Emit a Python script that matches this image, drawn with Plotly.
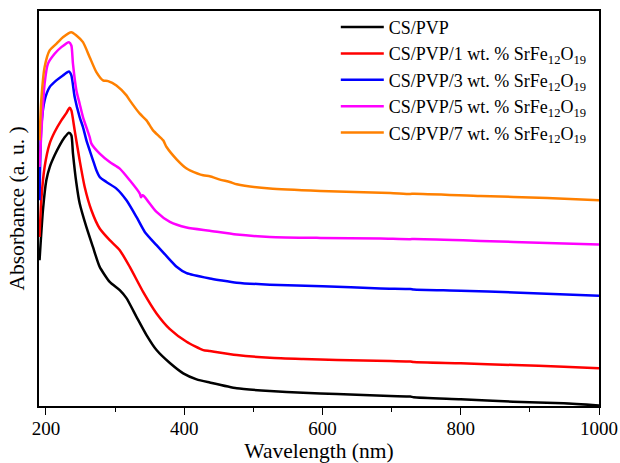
import plotly.graph_objects as go

# ---- data (wavelength in nm, absorbance in arbitrary units) ----
black_wl = [190.8, 195.7, 200.6, 205.4, 212.6, 219.9, 227.1, 233.3, 236.8, 239.1, 244.1, 248.8, 258.6, 268.1,
            277.8, 292.3, 306.8, 316.5, 331, 345.5, 360, 379.3, 398.6, 418, 437, 476, 524, 572, 621, 698,
            727, 732, 800, 876, 949, 1000]
black_ab = [146, 196, 226, 239, 251, 261, 269, 273.7, 271, 253, 223, 203, 179, 159,
            139.3, 124.3, 116, 108, 89.3, 71, 56, 43, 32.7, 26.7, 23.5, 17.7, 15, 13.3, 12, 10,
            9.5, 8.7, 6.7, 4.3, 2.7, 0.5]

red_wl = [190.8, 193.3, 198.1, 205.4, 212.6, 222.3, 229.6, 234.3, 236.8, 241.6, 248.8, 256.1, 265.8, 277.8,
          292.3, 306.8, 321.3, 340.6, 360, 379.3, 403.5, 427.5, 437, 476, 524, 572, 621, 698, 727, 732,
          800, 877, 949, 1000]
red_ab = [169.3, 206, 239.3, 262.7, 274.3, 286, 293.3, 298.7, 296, 276, 246, 219.3, 196, 177.7,
          166, 156, 139.3, 114.3, 92.7, 77, 64.3, 56, 55, 51, 48.3, 47, 46, 45, 44.6, 44,
          42.7, 41, 39.3, 37.7]

blue_wl = [190.8, 193.3, 198.1, 205.4, 215.1, 224.6, 233.3, 236.8, 241.6, 248.8, 253.6, 258.6, 263.3, 268.1,
           273, 277.8, 287.5, 302, 316.5, 331, 343, 360, 374.5, 389, 403.5, 437, 451.7, 476, 524, 600,
           684, 727, 732, 800, 877, 1000]
blue_ab = [206, 279.3, 306, 319.3, 326, 331, 335, 331, 309.3, 289.3, 279.3, 266, 256, 246,
           236, 229.3, 224.3, 217.7, 206, 189.3, 174.3, 161, 150, 139.5, 133, 127.7, 126, 123.5, 121.5, 120,
           117.7, 117.2, 116.7, 115.5, 113.7, 110.3]

magenta_wl = [190.8, 193.3, 198.1, 202.9, 212.6, 222.3, 233.3, 236.8, 239.1, 244.1, 248.8, 253.6, 263.3, 265.8,
              277.8, 292.3, 306.8, 321.3, 335.8, 337.5, 339.5, 342, 360, 379.3, 403.5, 437, 476, 524, 597,
              684, 727, 732, 829, 925, 1000]
magenta_ab = [239.3, 273, 322.7, 342.7, 352.7, 359.3, 364.3, 361, 342.7, 316, 302.7, 289.3, 269.3, 262.7,
              252.7, 244.3, 237.7, 226, 212.7, 209, 211, 210, 194.3, 184.3, 178.7, 175.5, 171.7, 169.3, 168.3,
              167.7, 167, 167.3, 165.3, 163.3, 161.7]

orange_wl = [190.8, 193.3, 198.1, 205.4, 215.1, 224.6, 236.8, 244.1, 253.6, 263.3, 273, 282.6, 289.9, 302,
             316.5, 321.3, 335.8, 345.5, 355, 369.6, 374.5, 389, 403.5, 408.3, 427.5, 437, 451.7, 466, 476,
             524, 597, 698, 727, 732, 829, 925, 1000]
orange_ab = [266, 306, 339.3, 356, 362.7, 369.3, 374.3, 371, 364.3, 349.3, 334.3, 326, 325.3, 321,
             311, 306, 292.7, 286, 276, 266, 259.3, 247, 237.7, 236, 231, 230, 226.7, 224.3, 222,
             217.7, 215.3, 213.3, 212.3, 212.6, 210.3, 208.3, 206]

series_names = [
    "CS/PVP",
    "CS/PVP/1 wt. % SrFe<sub>12</sub>O<sub>19</sub>",
    "CS/PVP/3 wt. % SrFe<sub>12</sub>O<sub>19</sub>",
    "CS/PVP/5 wt. % SrFe<sub>12</sub>O<sub>19</sub>",
    "CS/PVP/7 wt. % SrFe<sub>12</sub>O<sub>19</sub>",
]
series_colors = ["#000000", "#ff0000", "#0000ff", "#ff00ff", "#ff8000"]
series_x = [black_wl, red_wl, blue_wl, magenta_wl, orange_wl]
series_y = [black_ab, red_ab, blue_ab, magenta_ab, orange_ab]

x_ticks = [200, 400, 600, 800, 1000]

FONT = "Liberation Serif, Times New Roman, serif"

fig = go.Figure()
for name, color, xs, ys in zip(series_names, series_colors, series_x, series_y):
    fig.add_trace(go.Scatter(x=xs, y=ys, mode="lines", name=name,
                             line=dict(color=color, width=2.5, shape="spline", smoothing=0.6)))

fig.update_layout(
    width=620, height=463,
    margin=dict(l=39, r=21, t=10, b=57),
    paper_bgcolor="white", plot_bgcolor="white",
    font=dict(family=FONT, color="black"),
    showlegend=True,
    legend=dict(x=0.53, y=1.003, xanchor="left", yanchor="top",
                bgcolor="rgba(0,0,0,0)", font=dict(family=FONT, size=18, color="black"),
                itemwidth=43, tracegroupgap=0),
    xaxis=dict(range=[190, 1000], tickvals=x_ticks, ticks="outside", ticklen=7, tickwidth=1.3,
               tickcolor="black", ticklabelstandoff=-3,
               minor=dict(dtick=100, tick0=200, ticks="outside", ticklen=4, tickwidth=1.2, tickcolor="black"),
               showline=True, linecolor="black", linewidth=1.5, mirror=True,
               showgrid=False, zeroline=False, automargin=False,
               tickfont=dict(family=FONT, size=19, color="black"),
               title=dict(text="Wavelength (nm)", font=dict(family=FONT, size=21.5, color="black"), standoff=4)),
    yaxis=dict(range=[0, 395.5], showticklabels=False, ticks="",
               showline=True, linecolor="black", linewidth=1.5, mirror=True,
               showgrid=False, zeroline=False, automargin=False,
               title=dict(text="Absorbance (a. u. )", font=dict(family=FONT, size=21.5, color="black"), standoff=7)),
)

fig.write_html("out.html")
